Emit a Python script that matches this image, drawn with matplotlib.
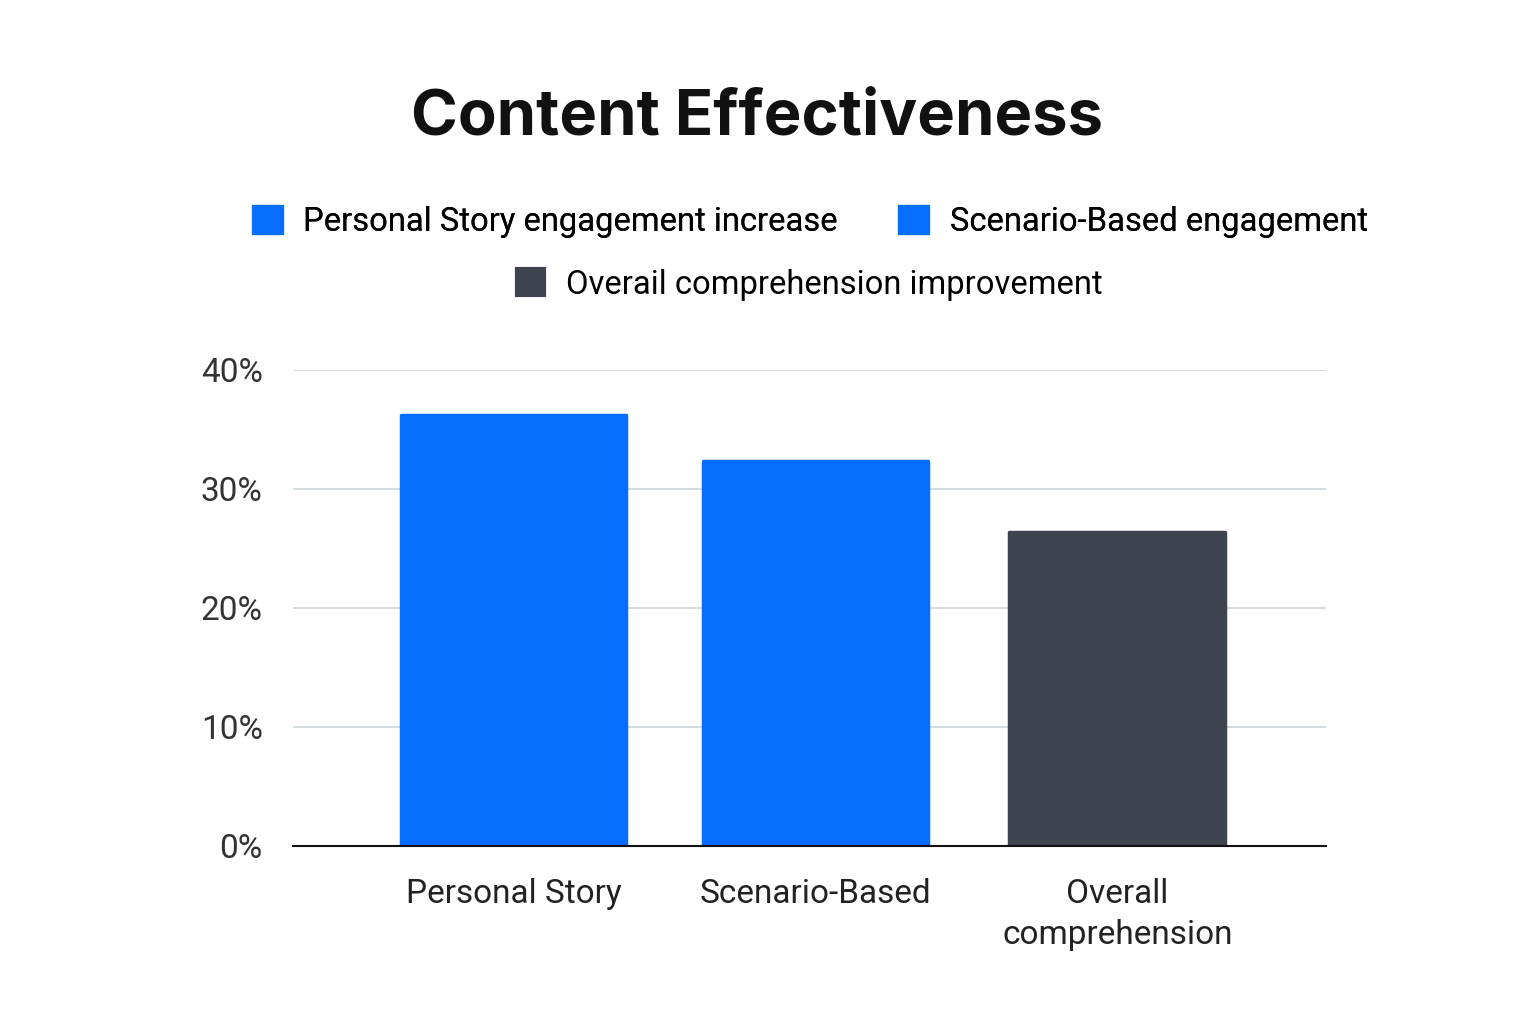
import matplotlib
matplotlib.use("Agg")
import matplotlib.pyplot as plt
from matplotlib.patches import Patch

categories = ["Personal Story", "Scenario-Based", "Overall\ncomprehension"]
values = [36.2, 32.3, 26.4]
series_names = ["Personal Story engagement increase",
                "Scenario-Based engagement",
                "Overail comprehension improvement"]
colors = ["#066DFF", "#066DFF", "#3D434F"]
yticks = [0, 10, 20, 30, 40]
ytick_labels = ["0%", "10%", "20%", "30%", "40%"]

plt.rcParams['font.family'] = ['Roboto', 'DejaVu Sans']

fig = plt.figure(figsize=(15.36, 10.24), dpi=100)
fig.patch.set_facecolor("white")
ax = fig.add_axes([0.191, 0.174, 0.672, 0.465])

x = list(range(len(categories)))
ax.bar(x, values, width=[0.745, 0.745, 0.715], color=colors, edgecolor=colors,
       linewidth=2.5, joinstyle="round", zorder=3)

ax.set_xlim(-0.73, 2.69)
ax.set_ylim(0, 40)
ax.set_yticks(yticks)
ax.set_yticklabels(ytick_labels)
ax.set_xticks(x)
ax.set_xticklabels(categories, linespacing=1.35)
ax.tick_params(axis="both", length=0, labelsize=24, labelcolor="#222222")
ax.tick_params(axis="x", pad=23)
ax.tick_params(axis="y", pad=22)
for lbl in ax.get_yticklabels():
    lbl.set_color("#333333")

ax.grid(axis="y", color="#CDD5D9", linewidth=1.2, zorder=0)
for side in ["top", "right", "left"]:
    ax.spines[side].set_visible(False)
ax.spines["bottom"].set_color("#111111")
ax.spines["bottom"].set_linewidth(1.5)
ax.spines["bottom"].set_zorder(4)

fig.text(0.493, 0.885, "Content Effectiveness", ha="center", va="center",
         fontsize=45.6, fontweight="bold", family=["Inter", "DejaVu Sans"],
         color="#111111")

handles = [Patch(facecolor=c, edgecolor=c, linewidth=3, joinstyle="round")
           for c in colors]
leg1 = fig.legend(handles[:2], series_names[:2], loc="center",
                  bbox_to_anchor=(0.528, 0.783), ncol=2, frameon=False,
                  fontsize=23.6, handlelength=0.85, handleheight=0.85,
                  handletextpad=0.65, columnspacing=1.9)
fig.add_artist(leg1)
fig.legend(handles[2:], series_names[2:], loc="center",
           bbox_to_anchor=(0.527, 0.722), frameon=False,
           fontsize=23.6, handlelength=0.85, handleheight=0.85,
           handletextpad=0.65)

fig.savefig("out.png", dpi=100, facecolor="white")
